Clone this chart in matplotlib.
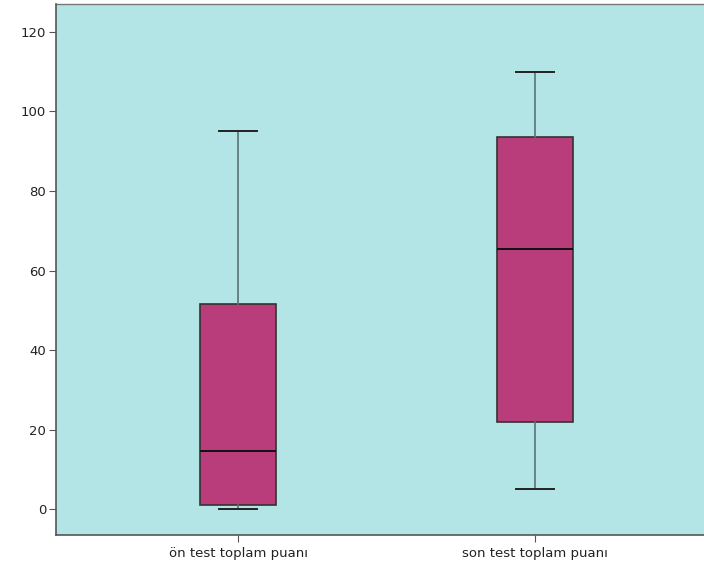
import matplotlib
matplotlib.use('Agg')
import matplotlib.pyplot as plt

labels = ['ön test toplam puanı', 'son test toplam puanı']
whislo = [0, 5]
q1 = [1, 22]
med = [14.5, 65.5]
q3 = [51.5, 93.5]
whishi = [95, 110]

stats = [
    {'label': lab, 'whislo': lo, 'q1': a, 'med': m, 'q3': b, 'whishi': hi, 'fliers': []}
    for lab, lo, a, m, b, hi in zip(labels, whislo, q1, med, q3, whishi)
]

fig = plt.figure(figsize=(7.04, 5.71), dpi=100)
ax = fig.add_axes([0.0795, 0.063, 0.9205, 0.930])
ax.set_facecolor('#b3e5e6')

ax.bxp(
    stats,
    positions=[1, 2],
    widths=0.256,
    capwidths=0.128,
    patch_artist=True,
    boxprops=dict(facecolor='#b83d7a', edgecolor='#333333', linewidth=1.2),
    medianprops=dict(color='#111111', linewidth=1.4),
    whiskerprops=dict(color='#5b7373', linewidth=1.2),
    capprops=dict(color='#222222', linewidth=1.4),
)

ax.set_xlim(0.387, 2.569)
ax.set_ylim(-6.5, 127)
ax.set_yticks([0, 20, 40, 60, 80, 100, 120])
ax.set_xticks([1, 2])
ax.set_xticklabels(labels)
ax.tick_params(axis='both', labelsize=9.5, direction='out', length=5, color='#555555',
               labelcolor='#222222')
ax.tick_params(axis='y', pad=2)
for side in ('top', 'right'):
    ax.spines[side].set_visible(False)
for side in ('left', 'bottom'):
    ax.spines[side].set_color('#555555')
    ax.spines[side].set_linewidth(1.2)
ax.plot([0, 1], [1, 1], transform=ax.transAxes, color='#777777', linewidth=1.0, clip_on=False)

fig.savefig('out.png', dpi=100)
